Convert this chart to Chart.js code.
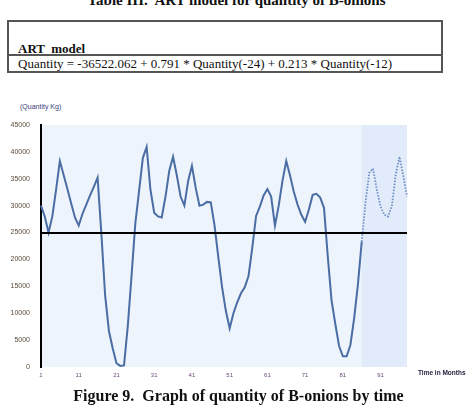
<!DOCTYPE html>
<html lang="en">
<head>
    <meta charset="UTF-8">
    <title>Figure 9 - Quantity of B-onions</title>
    <script src="https://cdn.jsdelivr.net/npm/chart.js"></script>
    <style>
        body {
            margin: 0;
            padding: 0;
            width: 469px;
            height: 410px;
            background: #fff;
            position: relative;
            overflow: hidden;
            font-family: "Liberation Serif", "Times New Roman", serif;
            color: #111;
        }
        .title {
            position: absolute;
            left: 0;
            width: 469px;
            top: -7px;
            text-align: center;
            font-weight: bold;
            font-size: 15px;
            line-height: 15px;
            padding-left: 2px;
        }
        .model-box {
            position: absolute;
            left: 7px;
            top: 20px;
            width: 432px;
            height: 49px;
            border: 2px solid #555;
        }
        .model-head {
            position: absolute;
            left: 9px;
            top: 19px;
            font-weight: bold;
            font-size: 13px;
            white-space: pre;
        }
        .model-rule {
            position: absolute;
            left: 0;
            right: 0;
            top: 32px;
            border-top: 2px solid #555;
        }
        .model-eq {
            position: absolute;
            left: 9px;
            top: 34px;
            font-size: 13px;
            white-space: nowrap;
        }
        .chart-box {
            position: absolute;
            left: 0;
            top: 118px;
            width: 469px;
            height: 262px;
        }
        .chart-box canvas {
            display: block;
        }
        .y-title {
            position: absolute;
            left: 20px;
            top: 103px;
            font-family: Arial, sans-serif;
            font-size: 7px;
            color: #3a3f7a;
        }
        .x-title {
            position: absolute;
            left: 418px;
            top: 369px;
            font-family: Arial, sans-serif;
            font-size: 6.5px;
            font-weight: bold;
            white-space: nowrap;
            color: #1d1d3a;
        }
        .caption {
            position: absolute;
            left: 0;
            width: 469px;
            top: 388px;
            text-align: center;
            font-weight: bold;
            font-size: 16px;
            line-height: 16px;
            padding-left: 8px;
            box-sizing: border-box;
        }
    </style>
</head>
<body>
    <div class="title">Table III.&nbsp; ART model for quantity of B-onions</div>

    <div class="model-box">
        <div class="model-head">ART  model</div>
        <div class="model-rule"></div>
        <div class="model-eq">Quantity = -36522.062 + 0.791 * Quantity(-24) + 0.213 * Quantity(-12)</div>
    </div>

    <div class="y-title">(Quantity Kg)</div>
    <div class="chart-box"><canvas id="qtyChart" width="469" height="262"></canvas></div>
    <div class="x-title">Time in Months</div>

    <div class="caption">Figure 9.&nbsp; Graph of quantity of B-onions by time</div>

    <script>
        // month index along the time axis (86 observed + 12 forecast)
        const months = Array.from({ length: 98 }, (_, i) => String(i + 1));

        // observed quantity, months 1..86
        const actualQty = [
            30000, 28000, 25000, 28000, 33000, 38300, 35700, 33100, 30400, 27800,
            26300, 28500, 30200, 31900, 33500, 35200, 24800, 13300, 6700, 3500,
            700, 200, 300, 7600, 17000, 26700, 32800, 38900, 40900, 33000,
            28700, 28000, 27800, 31700, 36500, 39100, 35600, 31700, 30000, 34600,
            37400, 33300, 30000, 30200, 30700, 30600, 26300, 20400, 14800, 10400,
            7200, 10000, 12000, 13700, 14800, 16900, 22200, 28100, 29800, 31900,
            33100, 31700, 26300, 30000, 34600, 38300, 35600, 32600, 30200, 28300,
            27000, 29300, 32000, 32200, 31500, 29600, 20600, 12400, 8000, 3900,
            2000, 2000, 4100, 9100, 15400, 23300
        ];

        // ART model forecast, months 87..98
        const forecastQty = [
            30600, 36100, 36900, 33000, 29800, 28300, 28000, 30000, 35700, 39100,
            35600, 31700
        ];

        const yTicks = [0, 5000, 10000, 15000, 20000, 25000, 30000, 35000, 40000, 45000];
        const referenceLevel = 25000;

        const lastActual = actualQty.length - 1;
        const forecastLine = actualQty.map((v, i) => (i === lastActual ? v : null)).concat(forecastQty);

        const backdrop = {
            id: 'backdrop',
            beforeDraw(chart) {
                const { ctx, chartArea: a, scales } = chart;
                const fx = scales.x.getPixelForValue(lastActual);
                ctx.save();
                ctx.fillStyle = '#eef4fc';
                ctx.fillRect(a.left, a.top, a.right - a.left, a.bottom - a.top);
                ctx.fillStyle = '#e1ebfa';
                ctx.fillRect(fx, a.top, a.right - fx, a.bottom - a.top);
                ctx.restore();
            },
            afterDatasetsDraw(chart) {
                const { ctx, chartArea: a, scales } = chart;
                const y = Math.round(scales.y.getPixelForValue(referenceLevel));
                ctx.save();
                ctx.strokeStyle = '#000';
                ctx.lineWidth = 2;
                ctx.beginPath();
                ctx.moveTo(a.left, y);
                ctx.lineTo(a.right, y);
                ctx.stroke();
                ctx.restore();
            }
        };

        new Chart(document.getElementById('qtyChart'), {
            type: 'line',
            data: {
                labels: months,
                datasets: [
                    {
                        label: 'Quantity',
                        data: actualQty,
                        borderColor: '#4a6da3',
                        borderWidth: 2,
                        pointRadius: 0,
                        tension: 0
                    },
                    {
                        label: 'Forecast',
                        data: forecastLine,
                        borderColor: '#6d8ec2',
                        borderWidth: 1.8,
                        borderDash: [1.5, 1.5],
                        pointRadius: 0,
                        tension: 0,
                        spanGaps: false
                    }
                ]
            },
            options: {
                responsive: false,
                animation: false,
                layout: { padding: { top: 7, right: 62, left: 0, bottom: 0 } },
                plugins: {
                    legend: { display: false },
                    tooltip: { enabled: false }
                },
                scales: {
                    x: {
                        offset: false,
                        grid: { color: 'transparent', drawOnChartArea: false, drawTicks: true, tickLength: 3 },
                        border: { display: false },
                        ticks: {
                            autoSkip: false,
                            maxRotation: 0,
                            padding: 2,
                            font: { family: 'Arial', size: 6 },
                            color: '#6a4a7a',
                            callback: (v, i) => (i % 10 === 0 ? months[i] : '')
                        },
                        afterFit: (s) => { s.height = 13; }
                    },
                    y: {
                        min: yTicks[0],
                        max: yTicks[yTicks.length - 1],
                        grid: { color: 'transparent', drawOnChartArea: false, drawTicks: true, tickLength: 9 },
                        border: { display: true, color: '#000', width: 2 },
                        afterBuildTicks: (s) => { s.ticks = yTicks.map(v => ({ value: v })); },
                        ticks: {
                            padding: 2,
                            font: { family: 'Arial', size: 7 },
                            color: '#5a4a3a',
                            callback: (v) => String(v)
                        },
                        afterFit: (s) => { s.width = 41; }
                    }
                }
            },
            plugins: [backdrop]
        });
    </script>
</body>
</html>
